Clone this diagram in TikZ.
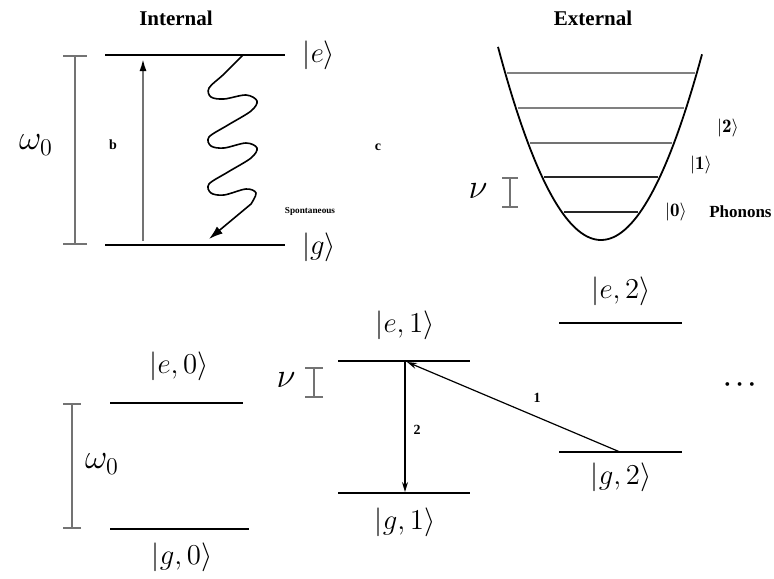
\documentclass[tikz,border=0pt]{standalone}
\usepackage{amsmath,amssymb}
\usepackage{fontspec}
\newfontfamily\tmsfont{Liberation Serif}
\usepackage{tikz}
\usetikzlibrary{positioning,arrows.meta}

\begin{document}
\begin{tikzpicture}[x=0.5pt,y=-0.5pt,
		lvl/.style={line width=1.4pt},
		lvlthin/.style={line width=1pt},
		gapbar/.style={black!55, line width=0.9pt, {Bar[width=#1]}-{Bar[width=#1]}},
		gapbar/.default=9pt,
		ket/.style={font=\fontsize{15}{17}\selectfont},
		freq/.style={font=\fontsize{17}{19}\selectfont},
		heading/.style={font=\tmsfont\bfseries\fontsize{10.5}{12}\selectfont},
		tag/.style={font=\tmsfont\bfseries\fontsize{7}{8}\selectfont},
		phket/.style={font=\fontsize{9.5}{11}\selectfont},
		transition/.style={line width=0.6pt, -{Stealth[length=5pt,width=3pt]}}]
		
		\useasboundingbox (0,0) rectangle (774,578);
		
		\node[heading] (intl) at (176,18) {Internal};
		\node[heading] (extl) at (593,18) {External};
		
		\coordinate (eL) at (105,55);  \coordinate (eR) at (285,55);
		\coordinate (gL) at (105,245); \coordinate (gR) at (285,245);
		\draw[lvl] (eL) -- (eR);
		\draw[lvl] (gL) -- (gR);
		\node[ket] (eket) at (319,55) {$|e\rangle$};
		\node[ket] (gket) at (319,247) {$|g\rangle$};
		
		\coordinate (wTop) at (75,55); \coordinate (wBot) at (75,245);
		\draw[gapbar=12pt] (wTop) -- (wBot);
		\node[freq] (wlab) at (36,145) {$\omega_0$};
		
		\coordinate (bFrom) at (143,241); \coordinate (bTo) at (143,59);
		\draw[black!55, line width=0.9pt, -{Latex[length=6pt,width=3.5pt,black]}] (bFrom) -- (bTo);
		\node[tag] (blab) at (113,145) {b};
		
		\coordinate (sStart) at (243,55); \coordinate (sTip) at (209,239);
		\draw[line width=0.8pt, -{Latex[length=7pt,width=4.5pt]}]
			plot[smooth, tension=0.55] coordinates {(sStart) (224,74) (209,88) (211,97) (224,99) (246,95) (257,101) (251,111) (228,125) (209,137) (211,146) (224,148) (246,143) (257,148) (251,158) (228,172) (209,184) (211,193) (224,195) (246,189) (256,193) (251,204)} -- (sTip);
		\node[tag, font=\tmsfont\bfseries\fontsize{4.6}{6}\selectfont] (slab) at (310,211) {Spontaneous};
		\node[tag] (clab) at (378,147) {c};
		
		\draw[line width=0.9pt] plot[domain=-103:101, samples=70, smooth] ({601+\x},{240-0.0182*\x*\x});
		\foreach \y/\c in {73/black!50, 108/black!50, 143/black!55, 177/black!85, 212/black!85}
		{
			\draw[\c, line width=1pt] ({603-sqrt((240-\y)/0.0182)},\y) -- ({599+sqrt((240-\y)/0.0182)},\y);
		}
		\coordinate (nuTop) at (510,177); \coordinate (nuBot) at (510,208);
		\draw[gapbar=8pt] (nuTop) -- (nuBot);
		\node[freq] (nulab) at (478,191) {$\nu$};
		\node[phket] (ph0) at (676,212) {$|\mathbf{0}\rangle$};
		\node[phket] (ph1) at (701,165) {$|\mathbf{1}\rangle$};
		\node[phket] (ph2) at (728,128) {$|\mathbf{2}\rangle$};
		\node[heading, font=\tmsfont\bfseries\fontsize{8.5}{10}\selectfont, anchor=east, inner xsep=1pt] (phon) at (774,212) {Phonons};
		
		\coordinate (e0L) at (110,403); \coordinate (e0R) at (243,403);
		\coordinate (g0L) at (110,529); \coordinate (g0R) at (249,529);
		\coordinate (e1L) at (338,361); \coordinate (e1R) at (470,361);
		\coordinate (g1L) at (338,493); \coordinate (g1R) at (470,493);
		\coordinate (e2L) at (559,323); \coordinate (e2R) at (682,323);
		\coordinate (g2L) at (559,452); \coordinate (g2R) at (682,452);
		\draw[lvlthin] (e0L) -- (e0R);
		\draw[lvlthin] (g0L) -- (g0R);
		\draw[lvlthin] (e1L) -- (e1R);
		\draw[lvl] (g1L) -- (g1R);
		\draw[lvl] (e2L) -- (e2R);
		\draw[lvlthin] (g2L) -- (g2R);
		
		\node[ket] (e0ket) at (179,366) {$|e,0\rangle$};
		\node[ket] (g0ket) at (182,557) {$|g,0\rangle$};
		\node[ket] (e1ket) at (405,325) {$|e,1\rangle$};
		\node[ket] (g1ket) at (405,522) {$|g,1\rangle$};
		\node[ket] (e2ket) at (621,291) {$|e,2\rangle$};
		\node[ket] (g2ket) at (621,477) {$|g,2\rangle$};
		
		\coordinate (w0Top) at (72,403); \coordinate (w0Bot) at (72,529);
		\draw[gapbar=9pt] (w0Top) -- (w0Bot);
		\node[freq] (w0lab) at (102,464) {$\omega_0$};
		\coordinate (nu1Top) at (314,367); \coordinate (nu1Bot) at (314,398);
		\draw[gapbar=9pt] (nu1Top) -- (nu1Bot);
		\node[freq] (nu1lab) at (286,380) {$\nu$};
		
		\coordinate (oneFrom) at (620,452); \coordinate (oneTo) at (407,362);
		\coordinate (twoFrom) at (405,362); \coordinate (twoTo) at (405,492);
		\draw[transition] (oneFrom) -- (oneTo);
		\draw[transition] (twoFrom) -- (twoTo);
		\node[tag] (onelab) at (537,398) {1};
		\node[tag] (twolab) at (417,430) {2};
		
		\node[font=\fontsize{12}{14}\selectfont\boldmath] (more) at (742,385) {$\cdots$};
		
	\end{tikzpicture}
\end{document}
